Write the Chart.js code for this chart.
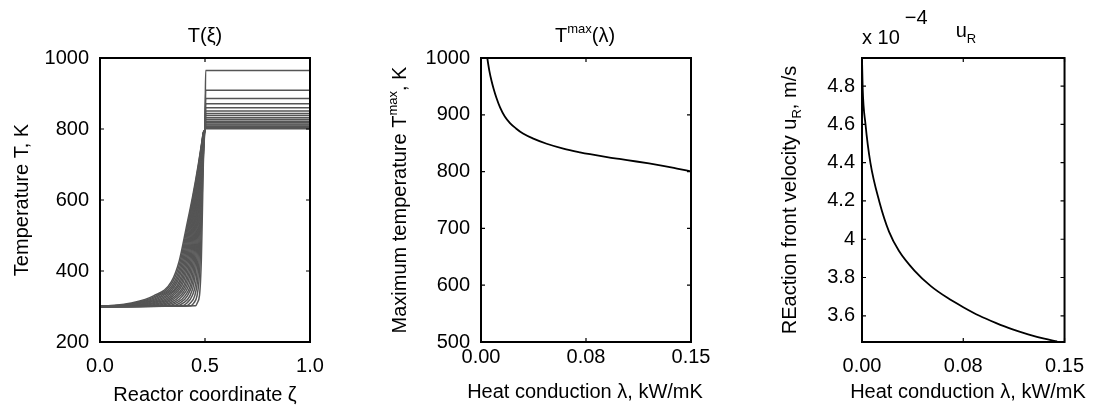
<!DOCTYPE html>
<html><head><meta charset="utf-8">
<script src="https://cdn.jsdelivr.net/npm/chart.js@4.4.1/dist/chart.umd.min.js"></script>
<style>
html,body{margin:0;padding:0;background:#fff;}
#wrap{position:relative;width:1096px;height:407px;overflow:hidden;background:#fff;}
.c{position:absolute;top:0;height:407px;}
</style></head><body>
<div id="wrap">
<div class="c" style="left:0;width:365px"><canvas id="c1"></canvas></div>
<div class="c" style="left:365px;width:365px"><canvas id="c2"></canvas></div>
<div class="c" style="left:730px;width:366px"><canvas id="c3"></canvas></div>
</div>
<script>
// ---------- Panel 1: T(xi) profiles ----------
const riseLevels = [302, 310, 330, 370, 430, 520, 610, 700, 760, 790];
// xi position of each curve at each level (rows: curves, sharp -> broad)
const riseXi = [
 [0.455,0.463,0.4735,0.4785,0.4825,0.486,0.489,0.492,0.496,0.4985],
 [0.433,0.447,0.462,0.471,0.477,0.482,0.4865,0.4907,0.4954,0.4982],
 [0.411,0.430,0.451,0.464,0.4715,0.478,0.4839,0.4895,0.4947,0.4978],
 [0.389,0.414,0.439,0.457,0.466,0.474,0.4814,0.4882,0.4941,0.4975],
 [0.368,0.397,0.428,0.449,0.4605,0.470,0.4789,0.4869,0.4935,0.4971],
 [0.346,0.381,0.416,0.442,0.455,0.466,0.4764,0.4857,0.4928,0.4968],
 [0.324,0.364,0.405,0.435,0.4495,0.462,0.4738,0.4844,0.4922,0.4964],
 [0.302,0.348,0.393,0.4275,0.444,0.458,0.4713,0.4832,0.4916,0.4961],
 [0.280,0.331,0.382,0.420,0.4385,0.454,0.4688,0.4819,0.4909,0.4958],
 [0.258,0.315,0.370,0.413,0.433,0.450,0.4663,0.4806,0.4903,0.4954],
 [0.237,0.298,0.359,0.406,0.4275,0.446,0.4637,0.4794,0.4897,0.4951],
 [0.215,0.282,0.347,0.398,0.422,0.442,0.4612,0.4781,0.4891,0.4947],
 [0.193,0.265,0.336,0.391,0.4165,0.438,0.4587,0.4768,0.4884,0.4944],
 [0.171,0.249,0.324,0.384,0.411,0.434,0.4562,0.4756,0.4878,0.4941],
 [0.149,0.232,0.313,0.377,0.4055,0.430,0.4536,0.4743,0.4872,0.4937],
 [0.127,0.216,0.301,0.369,0.400,0.426,0.4511,0.4731,0.4865,0.4934],
 [0.106,0.199,0.290,0.362,0.3945,0.422,0.4486,0.4718,0.4859,0.4930],
 [0.084,0.183,0.278,0.355,0.389,0.418,0.4461,0.4705,0.4853,0.4927],
 [0.062,0.166,0.267,0.347,0.3835,0.414,0.4435,0.4693,0.4846,0.4923],
 [0.040,0.150,0.255,0.340,0.378,0.410,0.441,0.468,0.484,0.492]
];
const plateauT = [965,909,886,871,860,851,844,838,832,827,822,818,814,811,808,806,804,803,802,801];
const x1Ticks = [0, 0.5, 1];
const x1Labels = ['0.0', '0.5', '1.0'];
const y1Ticks = [200, 400, 600, 800, 1000];

// ---------- Panel 2: Tmax(lambda) ----------
const lambdaT = [0.0035,0.0045,0.006,0.0075,0.009,0.011,0.0136,0.017,0.0207,0.025,0.03,0.0374,0.0469,0.0588,0.0707,0.0779,0.09,0.1,0.111,0.12,0.13,0.14,0.15];
const tMax    = [1018,1000,977,960,946,930,913,897,885.5,876,867,858,849,840.5,834,830.6,825.5,821.8,817.8,814.3,810,805.3,800.5];
const x2Ticks = [0, 0.075, 0.15];
const x2Labels = ['0.00', '0.08', '0.15'];
const y2Ticks = [500, 600, 700, 800, 900, 1000];

// ---------- Panel 3: u_R(lambda), units 1e-4 m/s ----------
const lambdaU = [0,0.0005,0.0026,0.0062,0.0129,0.020,0.0273,0.039,0.051,0.063,0.075,0.087,0.099,0.111,0.123,0.135,0.1445];
const uR      = [4.947,4.79,4.60,4.40,4.195,4.04,3.94,3.835,3.755,3.695,3.645,3.60,3.563,3.53,3.503,3.48,3.466];
const y3Ticks = [3.6, 3.8, 4.0, 4.2, 4.4, 4.6, 4.8];
const y3Labels = ['3.6', '3.8', '4', '4.2', '4.4', '4.6', '4.8'];

const FONT = '"Liberation Sans", Arial, Helvetica, sans-serif';
const FS = 20, FSS = 13;
Chart.defaults.font.family = FONT;
Chart.defaults.color = '#000';

const framePlugin = {
  id: 'frame',
  afterDatasetsDraw(chart) {
    const {ctx, chartArea: a, scales: {x, y}} = chart;
    ctx.save();
    ctx.strokeStyle = '#000';
    ctx.lineWidth = 1.2;
    ctx.beginPath();
    x.ticks.forEach(t => { const p = x.getPixelForValue(t.value);
      ctx.moveTo(p, a.bottom); ctx.lineTo(p, a.bottom - 4);
      ctx.moveTo(p, a.top); ctx.lineTo(p, a.top + 4); });
    y.ticks.forEach(t => { const p = y.getPixelForValue(t.value);
      ctx.moveTo(a.left, p); ctx.lineTo(a.left + 4, p);
      ctx.moveTo(a.right, p); ctx.lineTo(a.right - 4, p); });
    ctx.stroke();
    ctx.lineWidth = 2;
    ctx.strokeRect(a.left, a.top, a.right - a.left, a.bottom - a.top);
    ctx.restore();
  }
};

const richPlugin = {
  id: 'rich',
  afterDraw(chart, args, opts) {
    const ctx = chart.ctx;
    (opts.items || []).forEach(it => {
      ctx.save();
      ctx.fillStyle = '#000';
      ctx.textBaseline = 'middle';
      ctx.textAlign = 'left';
      let total = 0;
      const w = it.segs.map(s => { ctx.font = (s.s || FS) + 'px ' + FONT; const m = ctx.measureText(s.t).width + (s.gap || 0); total += m; return m; });
      ctx.translate(it.x, it.y);
      ctx.rotate(it.rot || 0);
      let x = it.align === 'left' ? 0 : -total / 2;
      it.segs.forEach((s, i) => {
        ctx.font = (s.s || FS) + 'px ' + FONT;
        ctx.fillText(s.t, x + (s.gap || 0), s.dy || 0);
        x += w[i];
      });
      ctx.restore();
    });
  }
};

function axes(cfg) {
  return {
    x: {
      type: 'linear', min: cfg.xmin, max: cfg.xmax,
      grid: {display: false, drawTicks: false}, border: {display: false},
      afterBuildTicks: s => { s.ticks = cfg.xTicks.map(v => ({value: v})); },
      afterFit: s => { s.height = 65; },
      ticks: {font: {size: FS}, color: '#000', padding: cfg.xPad, maxRotation: 0, autoSkip: false,
        callback: (v, i) => cfg.xLabels[i]}
    },
    y: {
      type: 'linear', min: cfg.ymin, max: cfg.ymax,
      grid: {display: false, drawTicks: false}, border: {display: false},
      afterBuildTicks: s => { s.ticks = cfg.yTicks.map(v => ({value: v})); },
      afterFit: s => { s.width = cfg.yWidth; },
      ticks: {font: {size: FS}, color: '#000', padding: cfg.yPad, autoSkip: false,
        callback: (v, i) => cfg.yLabels[i]}
    }
  };
}

function baseOpts(cfg, items) {
  return {
    responsive: true, maintainAspectRatio: false, animation: false, devicePixelRatio: 1,
    layout: {padding: {left: 0, right: cfg.padR, top: 58, bottom: 0}},
    scales: axes(cfg),
    plugins: {legend: {display: false}, tooltip: {enabled: false}, title: {display: false}, rich: {items}},
    elements: {point: {radius: 0}}
  };
}

// Panel 1
const ds1 = plateauT.map((P, k) => {
  const pts = [{x: 0, y: 300}];
  riseLevels.forEach((L, j) => pts.push({x: riseXi[k][j], y: L}));
  pts.push({x: 0.5, y: 797}, {x: 0.503, y: P}, {x: 1, y: P});
  return {data: pts, borderColor: '#555555', borderWidth: 1.5, pointRadius: 0, cubicInterpolationMode: 'monotone', fill: false};
});
new Chart(document.getElementById('c1'), {
  type: 'line',
  data: {datasets: ds1},
  options: baseOpts({xmin: 0, xmax: 1, ymin: 200, ymax: 1000, xTicks: x1Ticks, xLabels: x1Labels,
    yTicks: y1Ticks, yLabels: y1Ticks.map(String), yWidth: 100, padR: 55, xPad: 12, yPad: 11},
    [
      {segs: [{t: 'T(ξ)'}], x: 205, y: 36},
      {segs: [{t: 'Temperature T, K'}], x: 22, y: 200, rot: -Math.PI / 2},
      {segs: [{t: 'Reactor coordinate ζ'}], x: 205, y: 395}
    ]),
  plugins: [framePlugin, richPlugin]
});

// Panel 2
new Chart(document.getElementById('c2'), {
  type: 'line',
  data: {datasets: [{data: lambdaT.map((v, i) => ({x: v, y: tMax[i]})), borderColor: '#000', borderWidth: 1.8,
    pointRadius: 0, cubicInterpolationMode: 'monotone', fill: false}]},
  options: baseOpts({xmin: 0, xmax: 0.15, ymin: 500, ymax: 1000, xTicks: x2Ticks, xLabels: x2Labels,
    yTicks: y2Ticks, yLabels: y2Ticks.map(String), yWidth: 116, padR: 39, xPad: 3, yPad: 11},
    [
      {segs: [{t: 'T'}, {t: 'max', s: FSS, dy: -7}, {t: '(λ)'}], x: 220, y: 36},
      {segs: [{t: 'Maximum temperature T'}, {t: 'max', s: FSS, dy: -7}, {t: ', K'}], x: 35, y: 200, rot: -Math.PI / 2},
      {segs: [{t: 'Heat conduction λ, kW/mK'}], x: 220, y: 392}
    ]),
  plugins: [framePlugin, richPlugin]
});

// Panel 3
new Chart(document.getElementById('c3'), {
  type: 'line',
  data: {datasets: [{data: lambdaU.map((v, i) => ({x: v, y: uR[i]})), borderColor: '#000', borderWidth: 1.8,
    pointRadius: 0, cubicInterpolationMode: 'monotone', fill: false}]},
  options: baseOpts({xmin: 0, xmax: 0.15, ymin: 3.463, ymax: 4.947, xTicks: x2Ticks, xLabels: x2Labels,
    yTicks: y3Ticks, yLabels: y3Labels, yWidth: 132, padR: 25, xPad: 12, yPad: 7},
    [
      {segs: [{t: 'x 10'}, {t: '−4', dy: -20, gap: 5}], x: 132, y: 38, align: 'left'},
      {segs: [{t: 'u'}, {t: 'R', s: FSS, dy: 8}], x: 236, y: 31},
      {segs: [{t: 'REaction front velocity u'}, {t: 'R', s: FSS, dy: 7}, {t: ', m/s'}], x: 60, y: 200, rot: -Math.PI / 2},
      {segs: [{t: 'Heat conduction λ, kW/mK'}], x: 238, y: 392}
    ]),
  plugins: [framePlugin, richPlugin]
});
</script>
</body></html>
